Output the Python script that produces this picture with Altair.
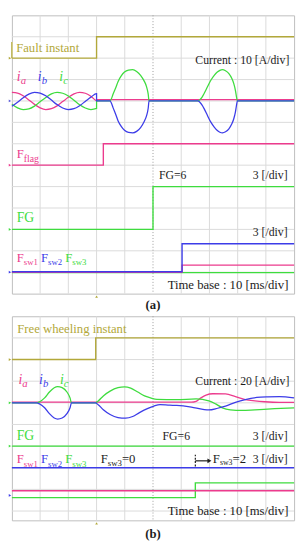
import altair as alt
import pandas as pd

PINK = "#ec3b8d"
BLUE = "#3c3ce8"
GREEN = "#3edc3e"
OLIVE = "#b2a83a"
INK = "#1c1c1c"
GRID = "#dadada"
FRAME = "#bdbdbd"
FONT = "Liberation Serif"

# ---------------- grid (screen divisions) ----------------
X_GRID = [1, 2, 3, 4, 6, 7, 8, 9]
X_CENTRE = [5]
A_Y_GRID = [1, 2, 3, 4, 5, 6, 7, 8, 9, 10, 11, 12]
B_Y_GRID = [0, 1, 2, 3, 4, 5, 6, 7, 8]

# ---------------- panel (a): fault ----------------
A_SINE_T = [0.0, 0.2, 0.4, 0.6, 0.8, 1.0, 1.2, 1.4, 1.6, 1.8, 2.0, 2.2, 2.4, 2.6, 2.8, 3.0]
A_IA_SINE = [0.40, 0.37, 0.24, 0.05, -0.16, -0.32, -0.40, -0.36, -0.23, -0.03, 0.17, 0.33, 0.40, 0.36, 0.22, 0.02]
A_IB_SINE = [-0.25, -0.06, 0.15, 0.32, 0.40, 0.37, 0.24, 0.04, -0.17, -0.33, -0.40, -0.36, -0.22, -0.02, 0.18, 0.34]
A_IC_SINE = [-0.15, -0.32, -0.40, -0.37, -0.24, -0.04, 0.16, 0.33, 0.40, 0.36, 0.23, 0.03, -0.18, -0.33, -0.40, -0.35]
A_PULSE1_T = [3.47, 3.52, 3.58, 3.68, 3.76, 3.88, 3.99, 4.13, 4.28, 4.42, 4.56, 4.68, 4.77, 4.83, 4.86]
A_IC_PULSE1 = [0, 0.08, 0.30, 0.62, 0.90, 1.18, 1.35, 1.44, 1.46, 1.38, 1.20, 0.95, 0.67, 0.32, 0]
A_IB_PULSE1 = [0, -0.08, -0.30, -0.63, -0.92, -1.20, -1.37, -1.47, -1.49, -1.42, -1.24, -0.98, -0.70, -0.34, 0]
A_PULSE2_T = [6.59, 6.66, 6.74, 6.82, 6.93, 7.05, 7.17, 7.28, 7.37, 7.46, 7.57, 7.69, 7.79, 7.86, 7.92, 7.96, 7.99]
A_IC_PULSE2 = [0, 0.06, 0.18, 0.37, 0.66, 0.97, 1.20, 1.35, 1.43, 1.46, 1.41, 1.28, 1.06, 0.82, 0.50, 0.18, 0]
A_IB_PULSE2 = [0, -0.06, -0.19, -0.38, -0.68, -0.99, -1.22, -1.38, -1.46, -1.49, -1.44, -1.30, -1.08, -0.84, -0.52, -0.19, 0]
A_IA_AFTER = [0.06, 0.06]
A_CURRENT_ZERO = 9

A_FAULT_T = [0, 3.0, 3.0, 10]
A_FAULT = [11, 11, 12, 12]
A_FLAG_T = [0, 3.24, 3.24, 10]
A_FLAG = [6, 6, 7, 7]
A_FG_T = [0, 5.0, 5.0, 10]
A_FG = [3, 3, 5, 5]
A_FSW_T = [0, 6.03, 6.03, 10]
A_FSW1 = [1, 1, 1.33, 1.33]
A_FSW2 = [1.02, 1.02, 2.33, 2.33]
A_FSW3 = [0.98, 0.98, 0.98, 0.98]

# ---------------- panel (b): free wheeling ----------------
B_IC_T = [0, 0.87, 0.98, 1.16, 1.33, 1.50, 1.62, 1.78, 1.95, 2.06, 2.11, 2.96, 3.06, 3.24, 3.48, 3.76,
          3.99, 4.21, 4.46, 4.70, 4.91, 5.14, 5.84, 6.53, 6.98, 7.22, 7.46, 7.74, 8.15, 8.61, 9.31, 10]
B_IC = [0, 0, 0.05, 0.23, 0.5, 0.7, 0.75, 0.7, 0.5, 0.23, 0, 0, 0.09, 0.32, 0.54, 0.7,
        0.74, 0.68, 0.5, 0.32, 0.23, 0.16, 0.15, 0.18, 0.09, -0.05, -0.23, -0.32, -0.35, -0.32, -0.27, -0.23]
B_IB_T = [0, 0.87, 0.98, 1.16, 1.33, 1.50, 1.62, 1.78, 1.95, 2.06, 2.11, 2.96, 3.06, 3.24, 3.48, 3.76,
          4.03, 4.28, 4.52, 4.80, 5.03, 5.25, 5.59, 5.84, 6.36, 6.77, 6.98, 7.29, 7.57, 7.92, 8.27, 8.68,
          9.06, 9.48, 10]
B_IB = [0, 0, -0.05, -0.23, -0.5, -0.7, -0.75, -0.7, -0.5, -0.23, 0, 0, -0.09, -0.32, -0.54, -0.68,
        -0.71, -0.63, -0.45, -0.27, -0.15, -0.08, -0.11, -0.12, -0.2, -0.3, -0.33, -0.25, -0.15, 0.02, 0.15, 0.25,
        0.28, 0.29, 0.23]
B_IA_T = [0, 6.36, 6.53, 6.70, 6.88, 7.12, 7.57, 7.92, 8.27, 8.61, 8.96, 9.48, 10]
B_IA = [0.03, 0.03, 0.07, 0.23, 0.36, 0.42, 0.41, 0.29, 0.15, 0.09, 0.05, 0.02, 0.02]
B_CURRENT_ZERO = 5

B_FAULT_T = [0, 2.97, 2.97, 10]
B_FAULT = [7, 7, 8, 8]
B_FLAT_T = [0, 10]
B_FG = [3, 3]
B_FSW2 = [2, 2]
B_FSW1 = [0.94, 0.94]
B_FSW3_T = [0, 6.5, 6.5, 10]
B_FSW3 = [0.62, 0.62, 1.3, 1.3]


def rows(name, ts, vs, color, base=0.0):
    return [dict(t=t, y=base + v, s=name, c=color, i=k) for k, (t, v) in enumerate(zip(ts, vs))]


XS = alt.Scale(domain=[0, 10], nice=False, zero=False)


def lines(data, ys, interp, width):
    return alt.Chart(pd.DataFrame(data)).mark_line(interpolate=interp, strokeWidth=width).encode(
        x=alt.X("t:Q", scale=XS, axis=None),
        y=alt.Y("y:Q", scale=ys, axis=None),
        detail="s:N",
        order="i:Q",
        color=alt.Color("c:N", scale=None),
    )


def texts(items, ys, **kw):
    df = pd.DataFrame(items, columns=["txt", "t", "y", "c", "fs"])
    return alt.Chart(df).mark_text(font=FONT, baseline="middle", **kw).encode(
        x=alt.X("t:Q", scale=XS, axis=None),
        y=alt.Y("y:Q", scale=ys, axis=None),
        text="txt:N",
        color=alt.Color("c:N", scale=None),
        size=alt.Size("fs:Q", scale=None),
    )


def grid_layers(ys, ygrid):
    gh = alt.Chart(pd.DataFrame({"y": ygrid})).mark_rule(color=GRID, strokeWidth=1).encode(
        y=alt.Y("y:Q", scale=ys, axis=None))
    gv = alt.Chart(pd.DataFrame({"t": X_GRID})).mark_rule(color=GRID, strokeWidth=1).encode(
        x=alt.X("t:Q", scale=XS, axis=None))
    gc = alt.Chart(pd.DataFrame({"t": X_CENTRE})).mark_rule(color="#9a9a9a", strokeWidth=1,
                                                            strokeDash=[1, 2]).encode(
        x=alt.X("t:Q", scale=XS, axis=None))
    return [gh, gv, gc]


def markers(items, ys, shape, size):
    df = pd.DataFrame(items, columns=["t", "y", "c"])
    return alt.Chart(df).mark_point(shape=shape, filled=True, size=size, opacity=1).encode(
        x=alt.X("t:Q", scale=XS, axis=None),
        y=alt.Y("y:Q", scale=ys, axis=None),
        color=alt.Color("c:N", scale=None),
    )


# ================= panel (a) =================
YA = alt.Scale(domain=[0, 13], nice=False, zero=False)

a_steps = (rows("fault", A_FAULT_T, A_FAULT, OLIVE) + rows("flag", A_FLAG_T, A_FLAG, PINK)
           + rows("fg", A_FG_T, A_FG, GREEN) + rows("fsw3", A_FSW_T, A_FSW3, GREEN))
a_steps2 = rows("fsw1", A_FSW_T, A_FSW1, PINK)
a_steps3 = rows("fsw2", A_FSW_T, A_FSW2, BLUE)
ib_t = A_SINE_T + [3.0] + A_PULSE1_T + A_PULSE2_T + [10]
ib_v = A_IB_SINE + [0] + A_IB_PULSE1 + A_IB_PULSE2 + [0]
ic_v = A_IC_SINE + [0] + A_IC_PULSE1 + A_IC_PULSE2 + [0]
a_pink = rows("ia", A_SINE_T + [3.0, 10], A_IA_SINE + A_IA_AFTER, PINK, A_CURRENT_ZERO)
a_green = rows("ic", ib_t, ic_v, GREEN, A_CURRENT_ZERO)
a_blue = rows("ib", ib_t, ib_v, BLUE, A_CURRENT_ZERO)

box = alt.Chart(pd.DataFrame({"t0": [0.0], "t1": [3.0], "y0": [11.0], "y1": [11.76]})).mark_rect(
    color="white").encode(x=alt.X("t0:Q", scale=XS, axis=None), x2="t1:Q",
                          y=alt.Y("y0:Q", scale=YA, axis=None), y2="y1:Q")
box_edge = alt.Chart(pd.DataFrame({"t0": [0.0], "y0": [11.0], "y1": [11.76]})).mark_rule(
    color=OLIVE, strokeWidth=1.4).encode(x=alt.X("t0:Q", scale=XS, axis=None),
                                         y=alt.Y("y0:Q", scale=YA, axis=None), y2="y1:Q")

a_left = [
    ("Fault instant", 0.15, 11.45, OLIVE, 13),
    ("F", 0.17, 6.52, PINK, 13), ("flag", 0.42, 6.30, PINK, 10),
    ("FG=6", 5.21, 5.54, INK, 12),
    ("FG", 0.17, 3.55, GREEN, 14),
    ("F", 0.17, 1.68, PINK, 13), ("sw1", 0.42, 1.47, PINK, 9),
    ("F", 1.03, 1.68, BLUE, 13), ("sw2", 1.28, 1.47, BLUE, 9),
    ("F", 1.89, 1.68, GREEN, 13), ("sw3", 2.14, 1.47, GREEN, 9),
]
a_ital = [
    ("i", 0.17, 10.11, PINK, 14), ("a", 0.31, 9.95, PINK, 11),
    ("i", 0.92, 10.11, BLUE, 14), ("b", 1.06, 9.95, BLUE, 11),
    ("i", 1.68, 10.11, GREEN, 14), ("c", 1.82, 9.95, GREEN, 11),
]
a_right = [
    ("Current : 10 [A/div]", 9.83, 10.93, INK, 12),
    ("3 [/div]", 9.77, 5.54, INK, 12),
    ("3 [/div]", 9.77, 2.88, INK, 12),
    ("Time base : 10 [ms/div]", 9.8, 0.42, INK, 13),
]
a_bold = [("(a)", 5.0, -0.53, INK, 13)]
a_marks = [(-0.07, 11, OLIVE), (-0.07, 9, "#5a5ad8"), (-0.07, 6, PINK), (-0.07, 3, GREEN), (-0.07, 1, BLUE)]

panel_a = alt.layer(
    *grid_layers(YA, A_Y_GRID),
    box, box_edge,
    lines(a_steps, YA, "linear", 1.4),
    lines(a_steps2, YA, "linear", 1.4),
    lines(a_steps3, YA, "linear", 1.4),
    lines(a_pink, YA, "monotone", 1.3),
    lines(a_green, YA, "monotone", 1.3),
    lines(a_blue, YA, "monotone", 1.3),
    texts(a_left, YA, align="left"),
    texts(a_ital, YA, align="left", fontStyle="italic"),
    texts(a_right, YA, align="right"),
    texts(a_bold, YA, align="center", fontWeight="bold"),
    markers(a_marks, YA, "triangle-right", 8),
    markers([(3.0, -0.14, OLIVE)], YA, "triangle-up", 8),
).properties(width=289, height=285)

# ================= panel (b) =================
YB = alt.Scale(domain=[-0.43, 9], nice=False, zero=False)

b_steps = (rows("fault", B_FAULT_T, B_FAULT, OLIVE) + rows("fg", B_FLAT_T, B_FG, GREEN)
           + rows("fsw3", B_FSW3_T, B_FSW3, GREEN) + rows("fsw1", B_FLAT_T, B_FSW1, PINK))
b_steps2 = rows("fsw2", B_FLAT_T, B_FSW2, BLUE)
b_pink = rows("ia", B_IA_T, B_IA, PINK, B_CURRENT_ZERO)
b_green = rows("ic", B_IC_T, B_IC, GREEN, B_CURRENT_ZERO)
b_blue = rows("ib", B_IB_T, B_IB, BLUE, B_CURRENT_ZERO)

b_left = [
    ("Free wheeling instant", 0.19, 8.4, OLIVE, 13),
    ("FG", 0.17, 3.45, GREEN, 14),
    ("FG=6", 5.34, 3.45, INK, 12),
    ("F", 0.17, 2.4, PINK, 13), ("sw1", 0.42, 2.19, PINK, 9),
    ("F", 1.03, 2.4, BLUE, 13), ("sw2", 1.28, 2.19, BLUE, 9),
    ("F", 1.89, 2.4, GREEN, 13), ("sw3", 2.14, 2.19, GREEN, 9),
    ("F", 3.15, 2.4, INK, 13), ("sw3", 3.40, 2.2, INK, 9), ("=0", 3.90, 2.4, INK, 13),
    ("F", 7.12, 2.4, INK, 13), ("sw3", 7.37, 2.2, INK, 8), ("=2", 7.82, 2.4, INK, 13),
]
b_ital = [
    ("i", 0.23, 6.03, PINK, 14), ("a", 0.37, 5.87, PINK, 11),
    ("i", 0.96, 6.03, BLUE, 14), ("b", 1.10, 5.87, BLUE, 11),
    ("i", 1.70, 6.03, GREEN, 14), ("c", 1.84, 5.87, GREEN, 11),
]
b_right = [
    ("Current : 20 [A/div]", 9.83, 6.0, INK, 12),
    ("3 [/div]", 9.77, 3.45, INK, 12),
    ("3 [/div]", 9.77, 2.4, INK, 12),
    ("Time base : 10 [ms/div]", 9.8, 0.0, INK, 13),
]
b_bold = [("(b)", 5.0, -1.06, INK, 13)]
b_marks = [(-0.07, 7, OLIVE), (-0.07, 5, GREEN), (-0.07, 3, GREEN), (-0.07, 0.72, BLUE)]

dash = alt.Chart(pd.DataFrame({"t": [6.5], "y0": [2.06], "y1": [2.6]})).mark_rule(
    color=INK, strokeWidth=1.2, strokeDash=[2, 1.5]).encode(
    x=alt.X("t:Q", scale=XS, axis=None), y=alt.Y("y0:Q", scale=YB, axis=None), y2="y1:Q")
arrow = alt.Chart(pd.DataFrame({"t0": [6.5], "t1": [6.98], "y": [2.32]})).mark_rule(
    color=INK, strokeWidth=1.2).encode(
    x=alt.X("t0:Q", scale=XS, axis=None), x2="t1:Q", y=alt.Y("y:Q", scale=YB, axis=None))

panel_b = alt.layer(
    *grid_layers(YB, B_Y_GRID),
    lines(b_steps, YB, "linear", 1.4),
    lines(b_steps2, YB, "linear", 1.4),
    lines(b_pink, YB, "monotone", 1.3),
    lines(b_green, YB, "monotone", 1.3),
    lines(b_blue, YB, "monotone", 1.3),
    dash, arrow,
    markers([(7.0, 2.32, INK)], YB, "triangle-right", 22),
    texts(b_left, YB, align="left"),
    texts(b_ital, YB, align="left", fontStyle="italic"),
    texts(b_right, YB, align="right"),
    texts(b_bold, YB, align="center", fontWeight="bold"),
    markers(b_marks, YB, "triangle-right", 8),
    markers([(3.0, -0.57, OLIVE)], YB, "triangle-up", 8),
).properties(width=289, height=209)

chart = alt.vconcat(panel_a, panel_b, spacing=23.2, bounds="flush").properties(
    padding={"left": 0, "top": 0, "right": 0, "bottom": 0},
    background="white",
).configure_view(stroke=FRAME, strokeWidth=1)

chart.save("out.html", embed_options={"renderer": "svg", "actions": False})
